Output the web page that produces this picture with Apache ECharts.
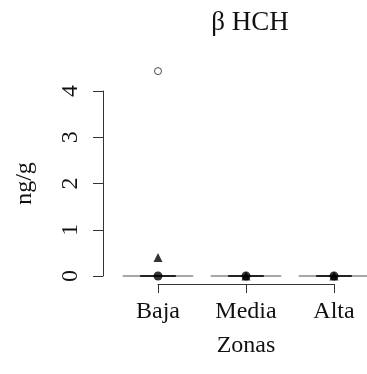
<!DOCTYPE html>
<html>
<head>
<meta charset="utf-8">
<script src="https://cdn.jsdelivr.net/npm/echarts@6/dist/echarts.min.js"></script>
<style>
html,body{margin:0;padding:0;background:#fff;}
#chart{width:367px;height:374px;}
</style>
</head>
<body>
<div id="chart"></div>
<script>
// ---- data ----
const categories = ['Baja', 'Media', 'Alta'];
const boxLow = [0, 0, 0];        // lower hinge
const boxHigh = [0, 0, 0];       // upper hinge
const whiskerLow = [0, 0, 0];
const whiskerHigh = [0, 0, 0];
const medians = [0, 0, 0];
const means = [0.40, 0, 0];
const outlierCategory = ['Baja'];
const outlierValue = [4.43];
const yTicks = [0, 1, 2, 3, 4];

const FONT = 'Liberation Serif';
const chart = echarts.init(document.getElementById('chart'), null, {renderer: 'canvas'});

const boxData = categories.map((c, i) => [i + 1, boxLow[i], boxHigh[i], whiskerLow[i], whiskerHigh[i]]);
const medianData = categories.map((c, i) => [i + 1, medians[i]]);
const meanData = categories.map((c, i) => [i + 1, means[i]]);
const outlierData = outlierCategory.map((c, k) => [categories.indexOf(c) + 1, outlierValue[k]]);

chart.setOption({
  animation: false,
  backgroundColor: '#ffffff',
  title: {
    text: 'β HCH',
    left: 245,
    textAlign: 'center',
    top: 4,
    textStyle: {fontFamily: FONT, fontSize: 27, fontWeight: 'normal', color: '#111'}
  },
  grid: {left: 158, top: 91, width: 176, height: 185, containLabel: false},
  xAxis: {
    type: 'value',
    min: 1, max: 3, interval: 1,
    offset: 8,
    name: 'Zonas',
    nameLocation: 'middle',
    nameGap: 50,
    nameTextStyle: {fontFamily: FONT, fontSize: 24, color: '#111'},
    axisLine: {show: true, onZero: false, lineStyle: {color: '#333', width: 1}},
    axisTick: {show: true, length: 9, lineStyle: {color: '#333', width: 1}},
    axisLabel: {
      fontFamily: FONT, fontSize: 24, color: '#111', margin: 16,
      formatter: v => categories[Math.round(v) - 1] || ''
    },
    splitLine: {show: false}
  },
  yAxis: {
    type: 'value',
    min: 0, max: 4, interval: 1,
    offset: 55,
    name: 'ng/g',
    nameLocation: 'middle',
    nameRotate: 90,
    nameGap: 66,
    nameTextStyle: {fontFamily: FONT, fontSize: 24, color: '#111'},
    axisLine: {show: true, onZero: false, lineStyle: {color: '#333', width: 1}},
    axisTick: {show: true, length: 10, lineStyle: {color: '#333', width: 1}, customValues: yTicks},
    axisLabel: {fontFamily: FONT, fontSize: 24, color: '#111', rotate: 90, margin: 20, customValues: yTicks},
    splitLine: {show: false}
  },
  series: [
    {
      type: 'custom',
      clip: false,
      data: boxData,
      renderItem: function (params, api) {
        const x = api.value(0);
        const lo = api.value(1), hi = api.value(2), wl = api.value(3), wh = api.value(4);
        const pL = api.coord([x - 0.4, hi]);
        const pR = api.coord([x + 0.4, lo]);
        const sL1 = api.coord([x - 0.2, wl]);
        const sR1 = api.coord([x + 0.2, wl]);
        const sL2 = api.coord([x - 0.2, wh]);
        const sR2 = api.coord([x + 0.2, wh]);
        return {
          type: 'group',
          children: [
            {type: 'rect', shape: {x: pL[0], y: pL[1], width: pR[0] - pL[0], height: pR[1] - pL[1]},
             style: {fill: 'none', stroke: '#8a8a8a', lineWidth: 1.5}},
            {type: 'line', shape: {x1: sL1[0], y1: sL1[1], x2: sR1[0], y2: sR1[1]},
             style: {stroke: '#222', lineWidth: 1.8}},
            {type: 'line', shape: {x1: sL2[0], y1: sL2[1], x2: sR2[0], y2: sR2[1]},
             style: {stroke: '#222', lineWidth: 1.8}}
          ]
        };
      }
    },
    {
      type: 'scatter', clip: false, data: medianData,
      symbol: 'circle', symbolSize: 9,
      itemStyle: {color: '#000'}
    },
    {
      type: 'scatter', clip: false, data: meanData,
      symbol: 'triangle', symbolSize: 9,
      itemStyle: {color: '#000'}
    },
    {
      type: 'scatter', clip: false, data: outlierData,
      symbol: 'circle', symbolSize: 7,
      itemStyle: {color: '#fff', borderColor: '#222', borderWidth: 1}
    }
  ]
});
</script>
</body>
</html>
